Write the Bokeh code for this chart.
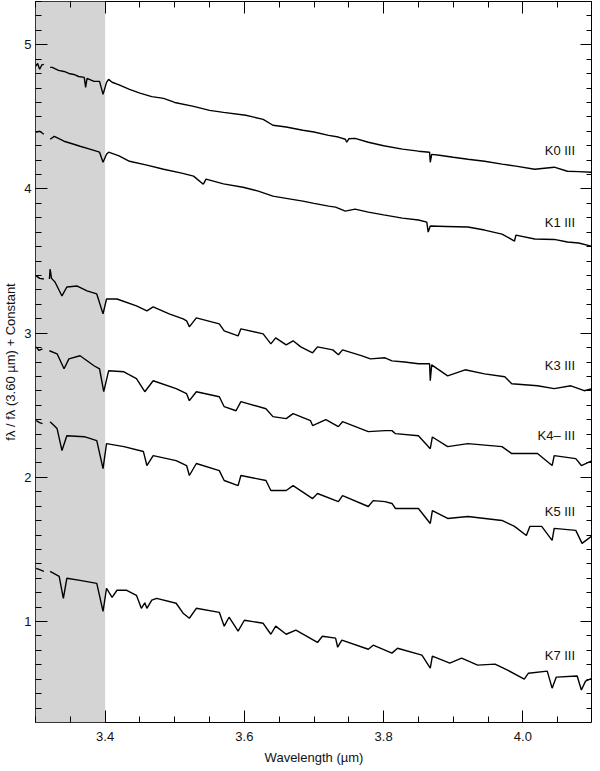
from bokeh.plotting import figure
from bokeh.models import (BoxAnnotation, LinearAxis, SingleIntervalTicker, Range1d,
                          ColumnDataSource, LabelSet, PrintfTickFormatter, CustomJSTickFormatter)
from bokeh.core.properties import value
from bokeh.embed import file_html
from bokeh.resources import INLINE

GAP = float("nan")

# ---- data (wavelength in micron, normalised flux + constant) ----
wl_k0 = [3.300, 3.303, 3.306, 3.309, 3.312, GAP, 3.321, 3.324, 3.333, 3.341, 3.348, 3.355, 3.362,
         3.370, 3.372, 3.374, 3.384, 3.392, 3.397, 3.402, 3.405, 3.410, 3.420, 3.435, 3.450,
         3.467, 3.484, 3.500, 3.527, 3.550, 3.570, 3.602, 3.627, 3.641, 3.660, 3.684, 3.700,
         3.721, 3.735, 3.745, 3.747, 3.750, 3.759, 3.778, 3.800, 3.827, 3.850, 3.866, 3.867,
         3.869, 3.880, 3.900, 3.921, 3.945, 3.970, 3.990, 4.017, 4.045, 4.064, 4.080, 4.098]
fx_k0 = [4.850, 4.870, 4.830, 4.860, 4.864, GAP, 4.843, 4.843, 4.822, 4.815, 4.801, 4.794, 4.780,
         4.774, 4.704, 4.767, 4.746, 4.746, 4.656, 4.739, 4.760, 4.740, 4.722, 4.691, 4.665,
         4.640, 4.628, 4.600, 4.573, 4.545, 4.531, 4.511, 4.483, 4.442, 4.430, 4.407, 4.395,
         4.372, 4.360, 4.345, 4.324, 4.348, 4.351, 4.324, 4.300, 4.276, 4.262, 4.255, 4.185,
         4.240, 4.234, 4.220, 4.206, 4.192, 4.172, 4.158, 4.137, 4.151, 4.123, 4.120, 4.116]

wl_k1 = [3.301, 3.306, 3.312, GAP, 3.321, 3.327, 3.341, 3.355, 3.364, 3.378, 3.392, 3.397, 3.402,
         3.405, 3.420, 3.435, 3.460, 3.484, 3.510, 3.527, 3.541, 3.545, 3.570, 3.598, 3.620,
         3.641, 3.660, 3.684, 3.700, 3.721, 3.731, 3.745, 3.759, 3.778, 3.800, 3.827, 3.850,
         3.862, 3.864, 3.867, 3.890, 3.921, 3.945, 3.970, 3.988, 3.990, 4.017, 4.045, 4.064,
         4.080, 4.098]
fx_k1 = [4.393, 4.400, 4.379, GAP, 4.345, 4.365, 4.331, 4.310, 4.296, 4.276, 4.255, 4.185, 4.241,
         4.255, 4.230, 4.192, 4.165, 4.137, 4.110, 4.089, 4.033, 4.068, 4.035, 4.012, 3.985,
         3.950, 3.935, 3.916, 3.900, 3.881, 3.874, 3.846, 3.860, 3.839, 3.820, 3.798, 3.785,
         3.770, 3.701, 3.743, 3.740, 3.736, 3.715, 3.687, 3.639, 3.680, 3.653, 3.650, 3.632,
         3.625, 3.604]

wl_k3 = [3.301, 3.306, 3.312, GAP, 3.320, 3.321, 3.323, 3.328, 3.338, 3.345, 3.360, 3.374, 3.388,
         3.397, 3.402, 3.417, 3.445, 3.460, 3.469, 3.492, 3.512, 3.517, 3.521, 3.531, 3.564,
         3.571, 3.591, 3.595, 3.627, 3.638, 3.645, 3.660, 3.670, 3.681, 3.698, 3.705, 3.727,
         3.735, 3.741, 3.769, 3.781, 3.802, 3.812, 3.830, 3.850, 3.866, 3.867, 3.869, 3.892,
         3.917, 3.945, 3.974, 3.984, 4.021, 4.045, 4.069, 4.088, 4.100]
fx_k3 = [3.397, 3.380, 3.376, GAP, 3.376, 3.445, 3.380, 3.355, 3.258, 3.320, 3.327, 3.293, 3.272,
         3.134, 3.237, 3.237, 3.189, 3.154, 3.182, 3.134, 3.099, 3.085, 3.044, 3.106, 3.064,
         3.016, 2.981, 3.030, 2.995, 2.926, 2.967, 2.919, 2.947, 2.905, 2.864, 2.905, 2.884,
         2.850, 2.884, 2.843, 2.822, 2.829, 2.808, 2.800, 2.788, 2.788, 2.670, 2.780, 2.704,
         2.746, 2.718, 2.698, 2.649, 2.635, 2.615, 2.635, 2.601, 2.615]

wl_k4 = [3.301, 3.305, 3.310, GAP, 3.320, 3.331, 3.341, 3.348, 3.364, 3.384, 3.392, 3.398, 3.405,
         3.427, 3.445, 3.457, 3.469, 3.502, 3.517, 3.521, 3.531, 3.564, 3.571, 3.588, 3.595,
         3.631, 3.641, 3.660, 3.670, 3.695, 3.698, 3.717, 3.735, 3.741, 3.778, 3.802, 3.812,
         3.817, 3.850, 3.867, 3.870, 3.892, 3.921, 3.970, 3.984, 4.021, 4.042, 4.045, 4.076,
         4.084, 4.100]
fx_k4 = [2.905, 2.880, 2.891, GAP, 2.878, 2.857, 2.753, 2.822, 2.843, 2.774, 2.753, 2.594, 2.739,
         2.732, 2.684, 2.594, 2.670, 2.615, 2.580, 2.532, 2.594, 2.559, 2.490, 2.462, 2.525,
         2.476, 2.421, 2.407, 2.442, 2.393, 2.359, 2.400, 2.352, 2.386, 2.317, 2.324, 2.324,
         2.303, 2.289, 2.199, 2.280, 2.213, 2.234, 2.213, 2.165, 2.165, 2.082, 2.151, 2.130,
         2.082, 2.116]

wl_k5 = [3.301, 3.306, 3.310, GAP, 3.321, 3.331, 3.338, 3.345, 3.370, 3.388, 3.397, 3.402, 3.427,
         3.455, 3.460, 3.469, 3.502, 3.517, 3.521, 3.531, 3.564, 3.571, 3.591, 3.595, 3.631,
         3.638, 3.660, 3.670, 3.698, 3.705, 3.735, 3.741, 3.778, 3.785, 3.802, 3.812, 3.817,
         3.850, 3.867, 3.870, 3.892, 3.921, 3.970, 3.988, 4.005, 4.010, 4.027, 4.042, 4.045,
         4.076, 4.085, 4.100]
fx_k5 = [2.393, 2.380, 2.372, GAP, 2.386, 2.338, 2.186, 2.289, 2.282, 2.255, 2.061, 2.234, 2.213,
         2.179, 2.082, 2.151, 2.116, 2.082, 2.013, 2.096, 2.047, 1.978, 1.943, 2.013, 1.978,
         1.909, 1.909, 1.943, 1.853, 1.888, 1.832, 1.874, 1.798, 1.839, 1.832, 1.819, 1.784,
         1.784, 1.680, 1.770, 1.715, 1.729, 1.701, 1.660, 1.597, 1.660, 1.660, 1.563, 1.646,
         1.632, 1.542, 1.597]

wl_k7 = [3.301, 3.306, 3.312, GAP, 3.321, 3.334, 3.340, 3.345, 3.364, 3.388, 3.397, 3.402, 3.410,
         3.417, 3.431, 3.445, 3.452, 3.457, 3.460, 3.467, 3.474, 3.502, 3.512, 3.521, 3.531,
         3.564, 3.571, 3.578, 3.591, 3.600, 3.627, 3.638, 3.645, 3.660, 3.674, 3.705, 3.712,
         3.731, 3.734, 3.740, 3.778, 3.785, 3.812, 3.820, 3.855, 3.867, 3.870, 3.895, 3.912,
         3.935, 3.960, 3.978, 4.002, 4.008, 4.035, 4.042, 4.048, 4.078, 4.084, 4.090, 4.100]
fx_k7 = [1.369, 1.360, 1.348, GAP, 1.348, 1.314, 1.161, 1.300, 1.286, 1.265, 1.071, 1.231, 1.168,
         1.217, 1.217, 1.182, 1.092, 1.130, 1.092, 1.148, 1.161, 1.127, 1.058, 1.023, 1.092,
         1.064, 0.968, 1.030, 0.933, 1.009, 0.988, 0.912, 0.968, 0.912, 0.940, 0.855, 0.898,
         0.885, 0.822, 0.871, 0.808, 0.836, 0.781, 0.815, 0.767, 0.677, 0.760, 0.712, 0.746,
         0.698, 0.705, 0.663, 0.601, 0.642, 0.656, 0.538, 0.615, 0.622, 0.525, 0.587, 0.608]

spectral_types = ["K0 III", "K1 III", "K3 III", "K4\u2013 III", "K5 III", "K7 III"]
label_y = [4.27, 3.77, 2.774, 2.289, 1.763, 0.767]
label_x = [4.075] * 6
shade_left, shade_right = 3.3, 3.4

FONT = "Liberation Sans"

p = figure(width=592, height=767, output_backend="svg", toolbar_location=None,
           x_range=Range1d(3.3, 4.1), y_range=Range1d(0.3, 5.3),
           min_border_left=30, min_border_right=0, min_border_top=1, min_border_bottom=0)
p.grid.visible = False
p.outline_line_color = "black"
p.outline_line_width = 1
p.background_fill_color = "white"
p.border_fill_color = "white"

p.add_layout(BoxAnnotation(left=shade_left, right=shade_right, fill_color="#d4d4d4",
                           fill_alpha=1.0, line_color=None, level="underlay"))

for wl, fx in [(wl_k0, fx_k0), (wl_k1, fx_k1), (wl_k3, fx_k3), (wl_k4, fx_k4),
               (wl_k5, fx_k5), (wl_k7, fx_k7)]:
    p.line(wl, fx, line_color="black", line_width=1.4)

src = ColumnDataSource(dict(x=label_x, y=label_y, t=spectral_types))
p.add_layout(LabelSet(x="x", y="y", text="t", source=src, text_align="right",
                      text_baseline="middle", text_font=value(FONT), text_font_size="13px",
                      text_color="#111111"))

def style_axis(ax, show_labels):
    ax.axis_line_color = None
    ax.major_tick_in = 12
    ax.major_tick_out = 0
    ax.minor_tick_in = 6
    ax.minor_tick_out = 0
    ax.major_tick_line_color = "black"
    ax.minor_tick_line_color = "black"
    ax.major_label_text_font = FONT
    ax.major_label_text_font_size = "13px"
    ax.major_label_text_color = "#111111"
    ax.major_label_standoff = 5 if show_labels else 0
    if not show_labels:
        ax.formatter = CustomJSTickFormatter(code="return '';")
        ax.axis_label_standoff = 0

xt = SingleIntervalTicker(interval=0.2, num_minor_ticks=4)
yt = SingleIntervalTicker(interval=1, num_minor_ticks=10)

p.xaxis.ticker = xt
p.yaxis.ticker = yt
style_axis(p.xaxis[0], True)
style_axis(p.yaxis[0], True)
p.xaxis[0].formatter = PrintfTickFormatter(format="%.1f")
p.xaxis[0].major_label_standoff = 9
p.yaxis[0].major_label_standoff = 4
p.xaxis.axis_label = "Wavelength (\u00b5m)"
p.yaxis.axis_label = "f\u03bb / f\u03bb (3.60 \u00b5m) + Constant"
for ax in (p.xaxis[0], p.yaxis[0]):
    ax.axis_label_text_font = FONT
    ax.axis_label_text_font_size = "13px"
    ax.axis_label_text_font_style = "normal"
    ax.axis_label_text_color = "#111111"
p.xaxis[0].axis_label_standoff = 6
p.yaxis[0].axis_label_standoff = 3

top = LinearAxis(ticker=SingleIntervalTicker(interval=0.2, num_minor_ticks=4))
right = LinearAxis(ticker=SingleIntervalTicker(interval=1, num_minor_ticks=10))
style_axis(top, False)
style_axis(right, False)
p.add_layout(top, "above")
p.add_layout(right, "right")

open("out.html", "w").write(file_html(p, INLINE))
